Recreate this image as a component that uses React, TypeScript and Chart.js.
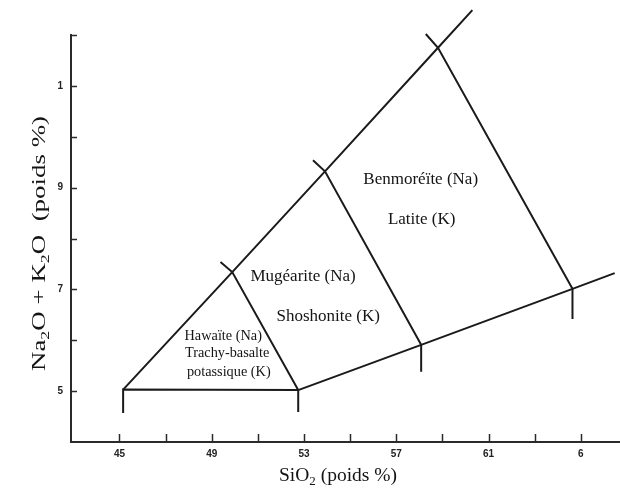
import React, { useEffect, useRef } from "react";
import { Chart, registerables } from "chart.js";

Chart.register(...registerables);

// ---- Tick values & labels ----
const xTickValues = [45, 47, 49, 51, 53, 55, 57, 59, 61, 63, 65];
const xTickLabelValues = [45, 49, 53, 57, 61, 65];
const xTickLabelTexts = ["45", "49", "53", "57", "61", "6"];
const yTickValues = [5, 6, 7, 8, 9, 10, 11, 12];
const yTickLabelValues = [5, 7, 9, 11];
const yTickLabelTexts = ["5", "7", "9", "1"];

// ---- Field boundaries (SiO2 %, Na2O+K2O %) ----
const upperLineX = [45.16, 49.89, 53.91, 58.81, 60.3];
const upperLineY = [5.03, 7.34, 9.32, 11.75, 12.49];
const baseLineX = [45.16, 45.16, 52.75, 52.75];
const baseLineY = [4.57, 5.03, 5.02, 4.59];
const hawaiiteRightX = [49.38, 49.89, 52.75];
const hawaiiteRightY = [7.54, 7.34, 5.02];
const mugeariteRightX = [53.39, 53.91, 58.08, 58.08];
const mugeariteRightY = [9.54, 9.32, 5.91, 5.38];
const benmoreiteRightX = [58.28, 58.81, 64.64, 64.64];
const benmoreiteRightY = [12.02, 11.75, 7.01, 6.42];
const lowerLineX = [52.75, 58.08, 64.64, 66.47];
const lowerLineY = [5.02, 5.91, 7.01, 7.32];

// ---- Field names ----
const fieldLabels = [
  "Hawaïte (Na)",
  "Trachy-basalte",
  "potassique (K)",
  "Mugéarite (Na)",
  "Shoshonite (K)",
  "Benmoréïte (Na)",
  "Latite (K)",
];
const fieldLabelX = [49.5, 49.67, 49.74, 52.96, 54.05, 58.06, 58.1];
const fieldLabelY = [6.07, 5.75, 5.38, 7.26, 6.47, 9.16, 8.37];
const fieldLabelSizes = [14.3, 14.3, 14.3, 17, 17, 17, 17];

// ---- Axis titles (text, isSubscript) ----
const xTitleTexts = ["SiO", "2", " (poids %)"];
const xTitleSubs = [false, true, false];
const yTitleTexts = ["Na", "2", "O + K", "2", "O  (poids %)"];
const yTitleSubs = [false, true, false, true, false];

const LINE_COLOR = "#1a1a1a";
const SERIF = '"Liberation Serif", "Times New Roman", serif';
const SANS = '"Liberation Sans", Arial, sans-serif';

function toPoints(xs: number[], ys: number[]) {
  return xs.map((x, i) => ({ x, y: ys[i] }));
}

function drawRich(
  ctx: CanvasRenderingContext2D,
  texts: string[],
  subs: boolean[],
  size: number,
  targetWidth?: number
) {
  const mainFont = `${size}px ${SERIF}`;
  const subFont = `${Math.round(size * 0.66)}px ${SERIF}`;
  const widths = texts.map((t, i) => {
    ctx.font = subs[i] ? subFont : mainFont;
    return ctx.measureText(t).width;
  });
  const total = widths.reduce((a, b) => a + b, 0);
  const s = targetWidth ? targetWidth / total : 1;
  ctx.scale(s, 1);
  let x = -total / 2;
  ctx.textAlign = "left";
  ctx.textBaseline = "alphabetic";
  texts.forEach((t, i) => {
    ctx.font = subs[i] ? subFont : mainFont;
    ctx.fillText(t, x, subs[i] ? size * 0.22 : 0);
    x += widths[i];
  });
}

const overlayPlugin = {
  id: "overlay",
  afterDraw(chart: any) {
    const ctx: CanvasRenderingContext2D = chart.ctx;
    const xs = chart.scales.x;
    const ys = chart.scales.y;
    const area = chart.chartArea;
    ctx.save();
    // inward tick marks
    ctx.strokeStyle = "#2a2a2a";
    ctx.lineWidth = 1.5;
    xTickValues.forEach((v) => {
      const px = Math.round(xs.getPixelForValue(v)) + 0.5;
      ctx.beginPath();
      ctx.moveTo(px, area.bottom);
      ctx.lineTo(px, area.bottom - 8);
      ctx.stroke();
    });
    yTickValues.forEach((v) => {
      const py = Math.round(ys.getPixelForValue(v)) + 0.5;
      ctx.beginPath();
      ctx.moveTo(area.left, py);
      ctx.lineTo(area.left + 6, py);
      ctx.stroke();
    });
    // field labels
    ctx.fillStyle = "#141414";
    ctx.textAlign = "center";
    ctx.textBaseline = "middle";
    fieldLabels.forEach((t, i) => {
      ctx.font = `${fieldLabelSizes[i]}px ${SERIF}`;
      ctx.fillText(t, xs.getPixelForValue(fieldLabelX[i]), ys.getPixelForValue(fieldLabelY[i]));
    });
    ctx.restore();

    // x title
    ctx.save();
    ctx.fillStyle = "#141414";
    ctx.translate(338, 480.5);
    drawRich(ctx, xTitleTexts, xTitleSubs, 19.5);
    ctx.restore();

    // y title
    ctx.save();
    ctx.fillStyle = "#141414";
    ctx.translate(44.5, 243.5);
    ctx.rotate(-Math.PI / 2);
    drawRich(ctx, yTitleTexts, yTitleSubs, 19.5, 255);
    ctx.restore();
  },
};

export default function App() {
  const canvasRef = useRef<HTMLCanvasElement | null>(null);

  useEffect(() => {
    if (!canvasRef.current) return;
    const lineDs = (xs: number[], ys: number[]) => ({
      data: toPoints(xs, ys),
      showLine: true,
      borderColor: LINE_COLOR,
      borderWidth: 2,
      pointRadius: 0,
      tension: 0,
      fill: false,
      clip: false as any,
    });
    const chart = new Chart(canvasRef.current, {
      type: "scatter",
      data: {
        datasets: [
          lineDs(upperLineX, upperLineY),
          lineDs(baseLineX, baseLineY),
          lineDs(hawaiiteRightX, hawaiiteRightY),
          lineDs(mugeariteRightX, mugeariteRightY),
          lineDs(benmoreiteRightX, benmoreiteRightY),
          lineDs(lowerLineX, lowerLineY),
        ] as any,
      },
      options: {
        animation: false,
        responsive: false,
        devicePixelRatio: 1,
        layout: { padding: { top: 35, left: 0, right: 0, bottom: 0 } },
        plugins: {
          legend: { display: false },
          tooltip: { enabled: false },
        },
        scales: {
          x: {
            type: "linear",
            min: 42.9,
            max: 66.7,
            afterBuildTicks: (s: any) => {
              s.ticks = xTickValues.map((v) => ({ value: v }));
            },
            afterFit: (s: any) => {
              s.height = 47;
            },
            grid: { display: false, drawTicks: false },
            border: { display: true, color: "#2a2a2a", width: 2 },
            ticks: {
              autoSkip: false,
              maxRotation: 0,
              padding: 6,
              color: "#222",
              font: { family: SANS, size: 10, weight: "bold" },
              callback: (v: any) => {
                const i = xTickLabelValues.indexOf(Number(v));
                return i >= 0 ? xTickLabelTexts[i] : "";
              },
            },
          },
          y: {
            type: "linear",
            min: 4,
            max: 12,
            afterBuildTicks: (s: any) => {
              s.ticks = yTickValues.map((v) => ({ value: v }));
            },
            afterFit: (s: any) => {
              s.width = 71;
            },
            grid: { display: false, drawTicks: false },
            border: { display: true, color: "#2a2a2a", width: 2 },
            ticks: {
              autoSkip: false,
              padding: 8,
              color: "#222",
              font: { family: SANS, size: 10, weight: "bold" },
              callback: (v: any) => {
                const i = yTickLabelValues.indexOf(Number(v));
                return i >= 0 ? yTickLabelTexts[i] : "";
              },
            },
          },
        },
      } as any,
      plugins: [overlayPlugin],
    });
    return () => chart.destroy();
  }, []);

  return (
    <div style={{ position: "absolute", left: 0, top: 0, width: 620, height: 489, background: "#fff" }}>
      <canvas ref={canvasRef} width={620} height={489} style={{ display: "block" }} />
    </div>
  );
}
